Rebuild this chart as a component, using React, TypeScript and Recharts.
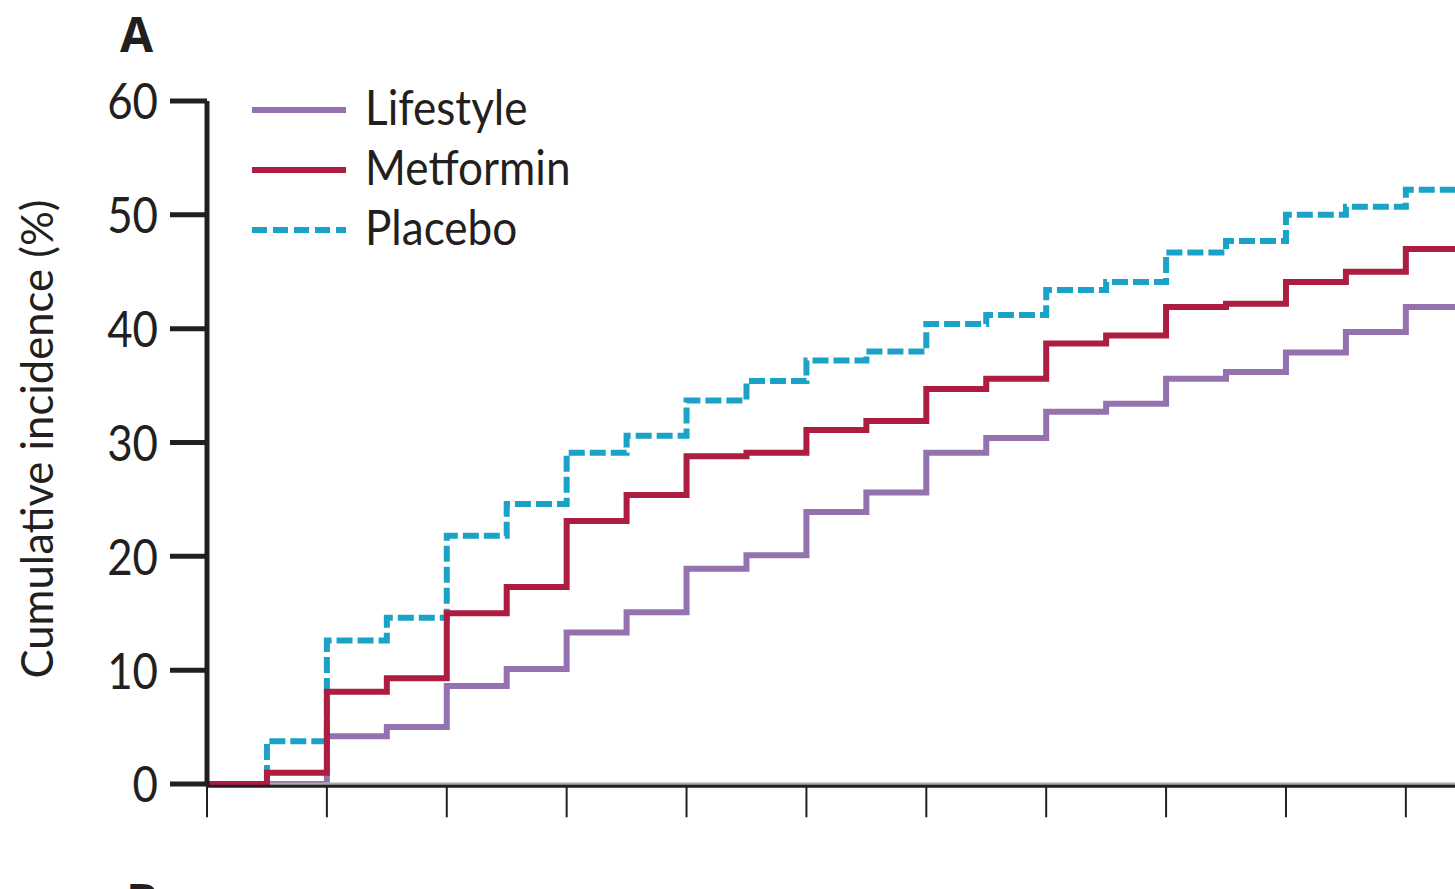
import React from 'react';
import { LineChart, Line, XAxis, YAxis, ReferenceLine, Legend } from 'recharts';

const TIMES = [0, 0.5, 1, 1.5, 2, 2.5, 3, 3.5, 4, 4.5, 5, 5.5, 6, 6.5, 7, 7.5, 8, 8.5, 9, 9.5, 10, 10.41];
const LIFESTYLE = [0, 0, 4.2, 5.0, 8.6, 10.1, 13.3, 15.1, 18.9, 20.1, 23.9, 25.6, 29.1, 30.4, 32.7, 33.4, 35.6, 36.2, 37.9, 39.7, 41.9, 41.9];
const METFORMIN = [0, 1.0, 8.1, 9.3, 15.0, 17.3, 23.1, 25.4, 28.8, 29.1, 31.1, 31.9, 34.7, 35.6, 38.7, 39.4, 41.9, 42.2, 44.1, 45.0, 47.0, 47.0];
const PLACEBO = [0, 3.75, 12.6, 14.6, 21.8, 24.6, 29.1, 30.6, 33.7, 35.4, 37.2, 38.0, 40.4, 41.2, 43.4, 44.1, 46.7, 47.7, 50.0, 50.7, 52.2, 52.2];
const Y_TICKS = [0, 10, 20, 30, 40, 50, 60];
const X_TICKS = [0, 1, 2, 3, 4, 5, 6, 7, 8, 9, 10];

const SERIES = [
  { key: 'lifestyle', name: 'Lifestyle', color: '#9471af', dash: undefined as string | undefined },
  { key: 'metformin', name: 'Metformin', color: '#ac1d40', dash: undefined as string | undefined },
  { key: 'placebo', name: 'Placebo', color: '#1aa3c6', dash: '15 6' },
];

const data = TIMES.map((t, i) => ({
  t,
  lifestyle: LIFESTYLE[i],
  metformin: METFORMIN[i],
  placebo: PLACEBO[i],
}));

const INK = '#231f20';
const FONT = 'Lato, "Open Sans", sans-serif';
const SX_DIGIT = 0.86;
const SX_TEXT = 0.9;

const YTick = (props: any) => {
  const { x, y, payload } = props;
  return (
    <g transform={`translate(${x},${y}) scale(${SX_DIGIT},1)`}>
      <text x={0} y={0} dy="0.36em" textAnchor="end" fontFamily={FONT} fontSize={51} fill={INK}>
        {payload.value}
      </text>
    </g>
  );
};

const NoTick = () => <g />;

const LegendContent = () => (
  <svg width={360} height={180} style={{ display: 'block', overflow: 'visible' }}>
    {SERIES.map((s, i) => {
      const cy = 30 + i * 60;
      return (
        <g key={s.key}>
          <line x1={12} x2={106} y1={cy} y2={cy} stroke={s.color} strokeWidth={6} strokeDasharray={s.dash} />
          <g transform={`translate(125,${cy + 15}) scale(${SX_TEXT},1)`}>
            <text x={0} y={0} fontFamily={FONT} fontSize={49} fill={INK}>{s.name}</text>
          </g>
        </g>
      );
    })}
  </svg>
);

export default function App() {
  return (
    <div style={{ position: 'absolute', left: 0, top: 0, width: 1455, height: 889, background: '#fff', overflow: 'hidden' }}>
      <LineChart
        width={1455}
        height={889}
        data={data}
        margin={{ top: 101, right: 0, bottom: 62.7, left: 0 }}
      >
        <XAxis
          dataKey="t"
          type="number"
          domain={[0, 10.41]}
          ticks={X_TICKS}
          allowDataOverflow
          height={40}
          tickSize={31}
          tick={NoTick}
          axisLine={{ stroke: INK, strokeWidth: 3 }}
          tickLine={{ stroke: INK, strokeWidth: 2 }}
        />
        <YAxis
          type="number"
          domain={[-0.2, 60]}
          ticks={Y_TICKS}
          allowDataOverflow
          width={207}
          tickSize={37}
          tickMargin={12}
          tick={YTick}
          axisLine={{ stroke: INK, strokeWidth: 5 }}
          tickLine={{ stroke: INK, strokeWidth: 5 }}
        />
        <Legend
          layout="vertical"
          align="center"
          verticalAlign="middle"
          content={LegendContent}
          wrapperStyle={{ position: 'absolute', left: 240, top: 80, width: 360, height: 180 }}
        />
        <Line type="stepAfter" dataKey="lifestyle" name="Lifestyle" stroke="#9471af" strokeWidth={6} dot={false} isAnimationActive={false} />
        <ReferenceLine y={0} stroke="#aaaaaa" strokeWidth={3} />
        <Line type="stepAfter" dataKey="placebo" name="Placebo" stroke="#1aa3c6" strokeWidth={6} strokeDasharray="16 5" dot={false} isAnimationActive={false} />
        <Line type="stepAfter" dataKey="metformin" name="Metformin" stroke="#ac1d40" strokeWidth={6} dot={false} isAnimationActive={false} />
      </LineChart>
      <svg width={1455} height={889} style={{ position: 'absolute', left: 0, top: 0, pointerEvents: 'none' }}>
        <text x={120} y={52} fontFamily='"Open Sans", sans-serif' fontWeight={700} fontSize={48} fill={INK}>A</text>
        <text x={126} y={919} fontFamily='"Open Sans", sans-serif' fontWeight={700} fontSize={48} fill={INK}>B</text>
        <g transform="translate(37,439) rotate(-90) scale(0.97,1)">
          <text x={0} y={0} dy="0.36em" textAnchor="middle" fontFamily={FONT} fontSize={45} fill={INK}>
            Cumulative incidence (%)
          </text>
        </g>
      </svg>
    </div>
  );
}
